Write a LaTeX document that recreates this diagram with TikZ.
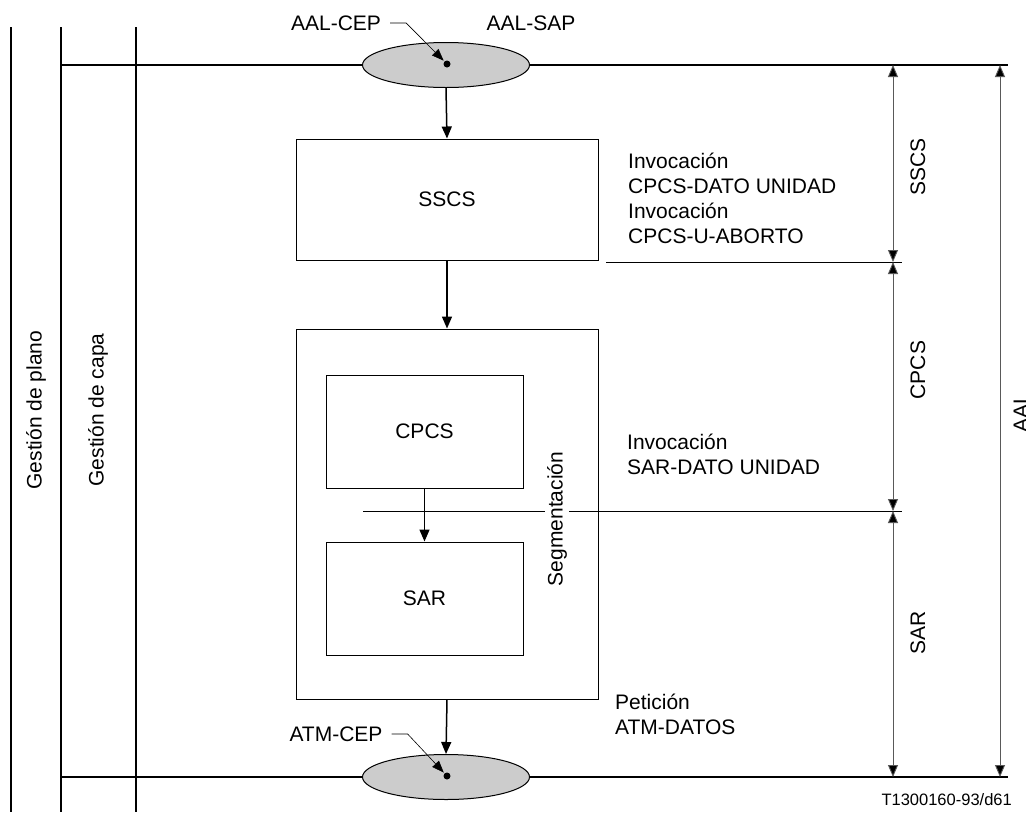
\documentclass[tikz,border=0pt]{standalone}
\usepackage{fontspec}
\setmainfont{Liberation Sans}
\usetikzlibrary{arrows.meta,shapes.geometric}
\begin{document}
\begin{tikzpicture}[x=1pt,y=-1pt,
  every node/.style={font=\fontsize{21}{25}\selectfont, inner sep=0pt},
  heavy/.style={line width=1.8pt},
  boxnode/.style={draw, line width=1pt, minimum width=#1},
  sapnode/.style={ellipse, draw, line width=1pt, fill=black!20, minimum width=167pt, minimum height=45pt},
  dotnode/.style={circle, fill=black, minimum size=7pt},
  flow/.style={line width=1.5pt, -{Triangle[length=12pt,width=10pt]}},
  pointer/.style={line width=0.6pt, -{Triangle[length=12pt,width=9pt]}, shorten >=1pt},
  sepline/.style={line width=0.8pt},
  dim/.style={line width=0.9pt, draw=black!65, {Triangle[length=12pt,width=10pt,fill=black]}-{Triangle[length=12pt,width=10pt,fill=black]}},
  txt/.style={align=left, anchor=west},
  vlabel/.style={rotate=90}
]
\useasboundingbox (0,0) rectangle (1026,812);
\fill[white] (0,0) rectangle (1026,812);

% frame lines
\coordinate (v1t) at (11,27);  \coordinate (v1b) at (11,812);
\coordinate (v2t) at (61,27);  \coordinate (v2b) at (61,812);
\coordinate (v3t) at (136,27); \coordinate (v3b) at (136,812);
\draw[heavy] (v1t) -- (v1b);
\draw[heavy] (v2t) -- (v2b);
\draw[heavy] (v3t) -- (v3b);

% SAP ellipses
\node[sapnode] (sap1) at (446,65) {};
\node[sapnode] (sap2) at (446,777) {};
\node[dotnode] (cep1) at (447,64) {};
\node[dotnode] (cep2) at (447,776) {};

\coordinate (tl) at (61,65);  \coordinate (tr) at (1008,65);
\coordinate (bl) at (61,777); \coordinate (br) at (1008,777);
\draw[heavy] (tl) -- (sap1.west);
\draw[heavy] (sap1.east) -- (tr);
\draw[heavy] (bl) -- (sap2.west);
\draw[heavy] (sap2.east) -- (br);

% labels at top/bottom
\node (aalcep) at (336,23) {AAL-CEP};
\node (aalsap) at (531,23) {AAL-SAP};
\node (atmcep) at (336,734) {ATM-CEP};
\draw[pointer] ([xshift=9pt]aalcep.east) -- ++(16,0) -- (cep1);
\draw[pointer] ([xshift=9pt]atmcep.east) -- ++(16,0) -- (cep2);

% boxes
\node[boxnode=302pt, minimum height=121pt] (sscs) at (447,199.5) {SSCS};
\node[boxnode=302pt, minimum height=370pt] (big) at (447,514) {};
\node[boxnode=197pt, minimum height=113pt] (cpcs) at (424.5,431.5) {CPCS};
\node[boxnode=197pt, minimum height=113pt] (sar) at (424.5,598.5) {SAR};

% flows
\draw[flow] (sap1.south) -- (sscs.north);
\draw[flow] (sscs.south) -- (big.north);
\draw[flow] (cpcs.south) -- (sar.north);
\draw[flow] (big.south) -- (sap2.north);

% separators
\coordinate (s1l) at (606,262); \coordinate (s1r) at (902,262);
\coordinate (s2l) at (363,511); \coordinate (s2r) at (902,511);
\draw[sepline] (s1l) -- (s1r);
\draw[sepline] (s2l) -- (s2r);
\node[vlabel, fill=white, inner sep=2pt] (segm) at (557,519) {Segmentación};

% side texts
\node[txt] (t1) at (628,198) {Invocación\\CPCS-DATO UNIDAD\\Invocación\\CPCS-U-ABORTO};
\node[txt] (t2) at (627,454) {Invocación\\SAR-DATO UNIDAD};
\node[txt] (t3) at (615,714) {Petición\\ATM-DATOS};

% dimension lines
\coordinate (da) at (893,65);
\coordinate (db) at (893,262);
\coordinate (dc) at (893,511);
\coordinate (dd) at (893,777);
\coordinate (ea) at (1000,65);
\coordinate (eb) at (1000,777);
\draw[dim] (da) -- (db);
\draw[dim] (db) -- (dc);
\draw[dim] (dc) -- (dd);
\draw[dim] (ea) -- (eb);
\node[vlabel] (lsscs) at (918,167) {SSCS};
\node[vlabel] (lcpcs) at (918,370) {CPCS};
\node[vlabel] (lsar) at (918,633) {SAR};
\node[vlabel] (laal) at (1021,413) {AAL};

% management labels
\node[vlabel] (gplano) at (36,410) {Gestión de plano};
\node[vlabel] (gcapa) at (98,410) {Gestión de capa};

\node[anchor=east, font=\fontsize{16.5}{20}\selectfont] (ref) at (1012,800) {T1300160-93/d61};
\end{tikzpicture}
\end{document}
